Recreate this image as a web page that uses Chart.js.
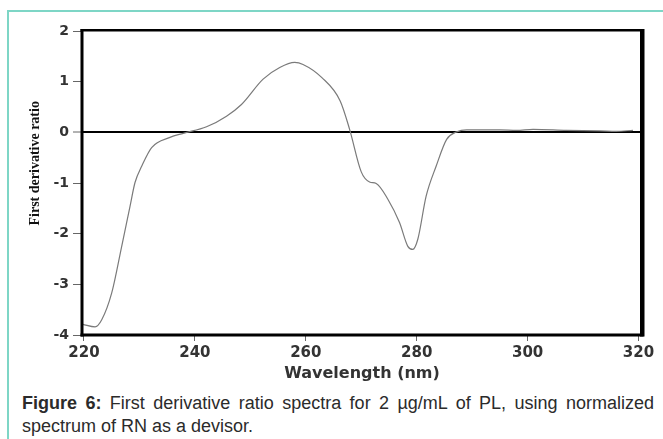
<!DOCTYPE html>
<html>
<head>
<meta charset="utf-8">
<script src="https://cdn.jsdelivr.net/npm/chart.js@4"></script>
<style>
  html, body { margin: 0; padding: 0; background: #fff; }
  body { width: 663px; height: 439px; position: relative; overflow: hidden; }
  .frame { position: absolute; left: 7px; top: 10px; width: 720px; height: 520px;
           border-left: 2px solid #7ed6c6; border-top: 2px solid #7ed6c6; }
  #wrap { position: absolute; left: 0; top: 0; width: 663px; height: 385px; }
  .caption { position: absolute; left: 22px; top: 392px; width: 632px;
             font-family: "Liberation Sans", Arial, sans-serif; font-size: 18px;
             line-height: 23px; color: #2b2b2b; text-align: justify; }
</style>
</head>
<body>
<div class="frame"></div>
<div id="wrap"><canvas id="myChart" width="663" height="385"></canvas></div>
<div class="caption"><b>Figure 6:</b> First derivative ratio spectra for 2 µg/mL of PL, using normalized spectrum of RN as a devisor.</div>
<script>
// wavelength (nm) and first derivative ratio
const wavelength = [219.8, 222, 223.2, 225, 226.8, 228.3, 229.2, 230.4, 232.2, 235.5, 237.9,
  242.1, 245.7, 248.4, 252.3, 255.3, 258, 259.5, 262.9, 266.2, 267.9, 270, 271.5, 272.7,
  274.8, 276.9, 278.4, 279.3, 280.2, 281.7, 283.5, 285.4, 287.2, 289, 295, 298, 301,
  307, 313, 316, 319];
const ratio = [-3.79, -3.84, -3.70, -3.17, -2.25, -1.46, -0.99, -0.67, -0.30, -0.10, -0.02,
  0.11, 0.32, 0.55, 1.05, 1.28, 1.38, 1.34, 1.08, 0.62, 0.06, -0.78, -0.98, -1.01,
  -1.32, -1.78, -2.25, -2.31, -2.11, -1.26, -0.67, -0.14, 0.01, 0.05, 0.05, 0.04, 0.06,
  0.04, 0.03, 0.02, 0.04];
const xTicks = [220, 240, 260, 280, 300, 320];
const yTicks = [-4, -3, -2, -1, 0, 1, 2];
const xTitle = 'Wavelength (nm)';
const yTitle = 'First derivative ratio';

const points = wavelength.map((w, i) => ({ x: w, y: ratio[i] }));

// thick black box round the plot
const boxPlugin = {
  id: 'box',
  afterDraw(chart) {
    const { ctx, chartArea: a } = chart;
    ctx.save();
    ctx.fillStyle = '#000';
    ctx.fillRect(a.left - 1.5, a.top - 1, a.right - a.left + 3, 2.5);
    ctx.fillRect(a.left - 1.5, a.bottom - 1.5, a.right - a.left + 3, 3);
    ctx.fillRect(a.left - 1.5, a.top - 1, 3, a.bottom - a.top + 2.5);
    ctx.fillRect(a.right - 2, a.top - 1, 4.5, a.bottom - a.top + 2.5);
    // y axis title, a bit above the middle as in the original
    ctx.translate(35, a.top + (a.bottom - a.top) * 0.437);
    ctx.rotate(-Math.PI / 2);
    ctx.font = 'bold 14px "Liberation Serif", "Times New Roman", serif';
    ctx.textAlign = 'center';
    ctx.textBaseline = 'middle';
    ctx.fillStyle = '#111';
    ctx.fillText(yTitle, 0, 0);
    ctx.restore();
  }
};

const tickFont = { family: '"DejaVu Sans", sans-serif', weight: 'bold' };

const ctx = document.getElementById('myChart').getContext('2d');
const myChart = new Chart(ctx, {
  type: 'line',
  data: {
    datasets: [
      {
        data: points,
        borderColor: '#7a7a7a',
        borderWidth: 1.2,
        pointRadius: 0,
        cubicInterpolationMode: 'monotone',
        fill: false,
      },
    ],
  },
  options: {
    responsive: false,
    animation: false,
    layout: { padding: { top: 30, right: 21, left: 0, bottom: 0 } },
    plugins: { legend: { display: false }, tooltip: { enabled: false } },
    scales: {
      x: {
        type: 'linear',
        min: 219.64,
        max: 320.63,
        afterBuildTicks: (s) => { s.ticks = xTicks.map((v) => ({ value: v })); },
        afterFit: (s) => { s.height = 50; },
        grid: { drawOnChartArea: false, tickLength: 6, tickColor: '#666' },
        border: { display: false },
        ticks: { font: { ...tickFont, size: 15 }, color: '#333', padding: 3, maxRotation: 0 },
        title: {
          display: true,
          text: xTitle,
          font: { ...tickFont, size: 16 },
          color: '#333',
          padding: 1.5,
        },
      },
      y: {
        min: -4,
        max: 2.02,
        afterBuildTicks: (s) => { s.ticks = yTicks.map((v) => ({ value: v })); },
        afterFit: (s) => { s.width = 82; },
        grid: {
          color: (c) => (c.tick && c.tick.value === 0 ? '#000' : 'rgba(0,0,0,0)'),
          lineWidth: (c) => (c.tick && c.tick.value === 0 ? 2 : 1),
          tickColor: '#666',
          tickWidth: 1,
          tickLength: 9,
        },
        border: { display: false },
        ticks: { font: { ...tickFont, size: 14 }, color: '#333', padding: 4 },
      },
    },
  },
  plugins: [boxPlugin],
});
</script>
</body>
</html>
